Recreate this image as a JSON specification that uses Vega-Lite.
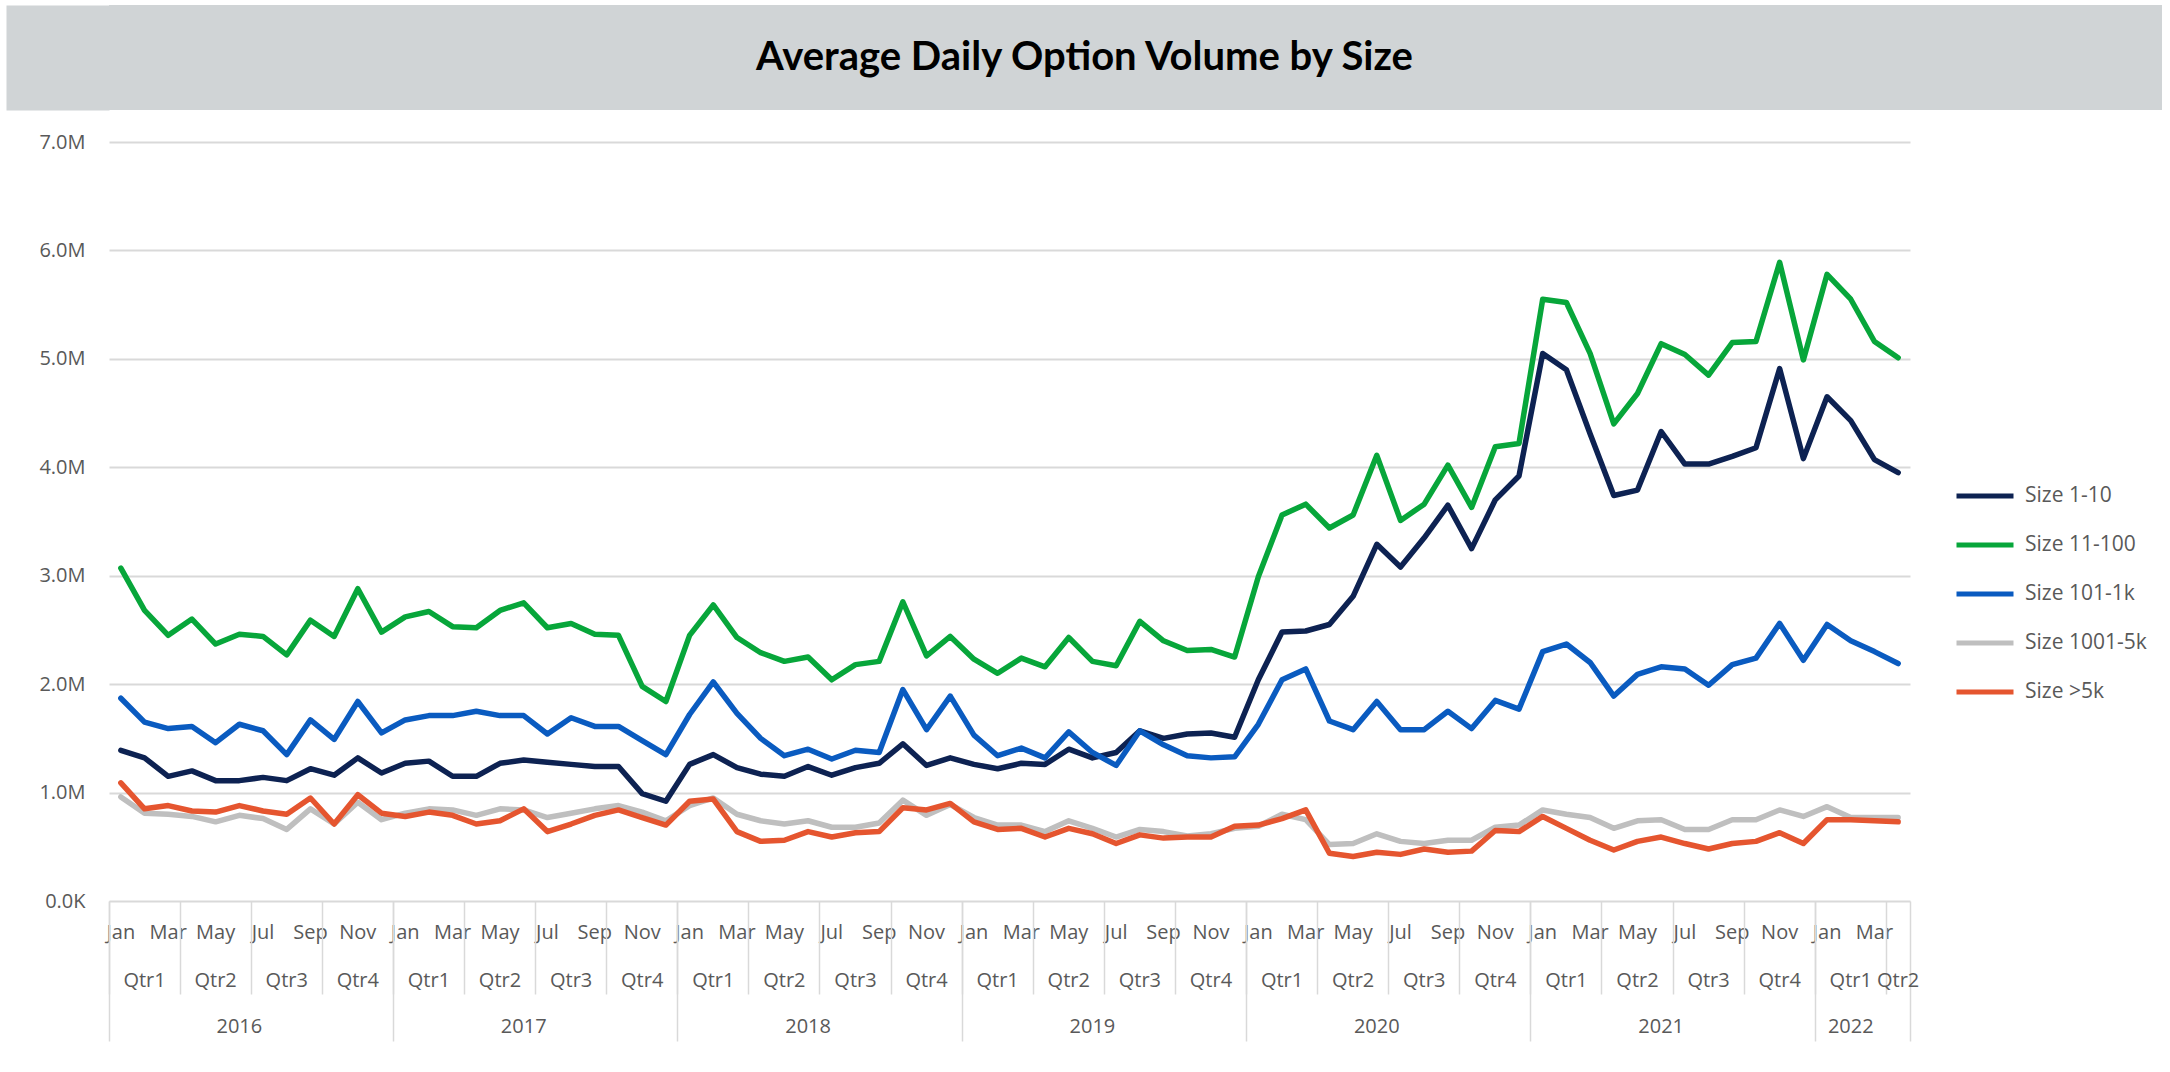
{
  "$schema": "https://vega.github.io/schema/vega-lite/v6.json",
  "background": "white",
  "padding": {"left": 5, "top": 5, "right": 5, "bottom": 0},
  "config": {
    "font": "Open Sans",
    "view": {"stroke": null},
    "axis": {"labelFont": "Open Sans", "labelColor": "#595959", "labelFontSize": 20}
  },
  "columns": 1,
  "align": "none",
  "spacing": 22,
  "concat": [
    {
      "width": 2053,
      "height": 105,
      "view": {"fill": "#D0D4D6", "stroke": null},
      "data": {"values": [{"title": "Average Daily Option Volume by Size", "px": 0.5, "py": 0.5}]},
      "mark": {"type": "text", "font": "Lato", "fontSize": 40, "fontWeight": "bold", "color": "#000000", "align": "center", "baseline": "middle", "dx": -51},
      "encoding": {
        "text": {"field": "title", "type": "nominal"},
        "x": {"field": "px", "type": "quantitative", "scale": {"domain": [0, 1]}, "axis": null},
        "y": {"field": "py", "type": "quantitative", "scale": {"domain": [0, 1]},
          "axis": {"orient": "left", "title": null, "labels": false, "ticks": false, "grid": false, "domain": true, "domainColor": "#D0D4D6", "domainWidth": 103, "offset": 51.5}}
      }
    },
    {
      "hconcat": [
    {
      "width": 1801,
      "height": 759,
      "data": {"values": [
{"m":"2016-01","s":"Size 1-10","v":1.39},{"m":"2016-02","s":"Size 1-10","v":1.32},{"m":"2016-03","s":"Size 1-10","v":1.15},{"m":"2016-04","s":"Size 1-10","v":1.20},{"m":"2016-05","s":"Size 1-10","v":1.11},{"m":"2016-06","s":"Size 1-10","v":1.11},{"m":"2016-07","s":"Size 1-10","v":1.14},{"m":"2016-08","s":"Size 1-10","v":1.11},{"m":"2016-09","s":"Size 1-10","v":1.22},{"m":"2016-10","s":"Size 1-10","v":1.16},{"m":"2016-11","s":"Size 1-10","v":1.32},{"m":"2016-12","s":"Size 1-10","v":1.18},
{"m":"2017-01","s":"Size 1-10","v":1.27},{"m":"2017-02","s":"Size 1-10","v":1.29},{"m":"2017-03","s":"Size 1-10","v":1.15},{"m":"2017-04","s":"Size 1-10","v":1.15},{"m":"2017-05","s":"Size 1-10","v":1.27},{"m":"2017-06","s":"Size 1-10","v":1.30},{"m":"2017-07","s":"Size 1-10","v":1.28},{"m":"2017-08","s":"Size 1-10","v":1.26},{"m":"2017-09","s":"Size 1-10","v":1.24},{"m":"2017-10","s":"Size 1-10","v":1.24},{"m":"2017-11","s":"Size 1-10","v":0.99},{"m":"2017-12","s":"Size 1-10","v":0.92},
{"m":"2018-01","s":"Size 1-10","v":1.26},{"m":"2018-02","s":"Size 1-10","v":1.35},{"m":"2018-03","s":"Size 1-10","v":1.23},{"m":"2018-04","s":"Size 1-10","v":1.17},{"m":"2018-05","s":"Size 1-10","v":1.15},{"m":"2018-06","s":"Size 1-10","v":1.24},{"m":"2018-07","s":"Size 1-10","v":1.16},{"m":"2018-08","s":"Size 1-10","v":1.23},{"m":"2018-09","s":"Size 1-10","v":1.27},{"m":"2018-10","s":"Size 1-10","v":1.45},{"m":"2018-11","s":"Size 1-10","v":1.25},{"m":"2018-12","s":"Size 1-10","v":1.32},
{"m":"2019-01","s":"Size 1-10","v":1.26},{"m":"2019-02","s":"Size 1-10","v":1.22},{"m":"2019-03","s":"Size 1-10","v":1.27},{"m":"2019-04","s":"Size 1-10","v":1.26},{"m":"2019-05","s":"Size 1-10","v":1.40},{"m":"2019-06","s":"Size 1-10","v":1.32},{"m":"2019-07","s":"Size 1-10","v":1.37},{"m":"2019-08","s":"Size 1-10","v":1.57},{"m":"2019-09","s":"Size 1-10","v":1.50},{"m":"2019-10","s":"Size 1-10","v":1.54},{"m":"2019-11","s":"Size 1-10","v":1.55},{"m":"2019-12","s":"Size 1-10","v":1.51},
{"m":"2020-01","s":"Size 1-10","v":2.04},{"m":"2020-02","s":"Size 1-10","v":2.48},{"m":"2020-03","s":"Size 1-10","v":2.49},{"m":"2020-04","s":"Size 1-10","v":2.55},{"m":"2020-05","s":"Size 1-10","v":2.81},{"m":"2020-06","s":"Size 1-10","v":3.29},{"m":"2020-07","s":"Size 1-10","v":3.08},{"m":"2020-08","s":"Size 1-10","v":3.35},{"m":"2020-09","s":"Size 1-10","v":3.65},{"m":"2020-10","s":"Size 1-10","v":3.25},{"m":"2020-11","s":"Size 1-10","v":3.70},{"m":"2020-12","s":"Size 1-10","v":3.92},
{"m":"2021-01","s":"Size 1-10","v":5.05},{"m":"2021-02","s":"Size 1-10","v":4.90},{"m":"2021-03","s":"Size 1-10","v":4.31},{"m":"2021-04","s":"Size 1-10","v":3.74},{"m":"2021-05","s":"Size 1-10","v":3.79},{"m":"2021-06","s":"Size 1-10","v":4.33},{"m":"2021-07","s":"Size 1-10","v":4.03},{"m":"2021-08","s":"Size 1-10","v":4.03},{"m":"2021-09","s":"Size 1-10","v":4.10},{"m":"2021-10","s":"Size 1-10","v":4.18},{"m":"2021-11","s":"Size 1-10","v":4.91},{"m":"2021-12","s":"Size 1-10","v":4.08},
{"m":"2022-01","s":"Size 1-10","v":4.65},{"m":"2022-02","s":"Size 1-10","v":4.43},{"m":"2022-03","s":"Size 1-10","v":4.07},{"m":"2022-04","s":"Size 1-10","v":3.95},
{"m":"2016-01","s":"Size 11-100","v":3.07},{"m":"2016-02","s":"Size 11-100","v":2.68},{"m":"2016-03","s":"Size 11-100","v":2.45},{"m":"2016-04","s":"Size 11-100","v":2.60},{"m":"2016-05","s":"Size 11-100","v":2.37},{"m":"2016-06","s":"Size 11-100","v":2.46},{"m":"2016-07","s":"Size 11-100","v":2.44},{"m":"2016-08","s":"Size 11-100","v":2.27},{"m":"2016-09","s":"Size 11-100","v":2.59},{"m":"2016-10","s":"Size 11-100","v":2.44},{"m":"2016-11","s":"Size 11-100","v":2.88},{"m":"2016-12","s":"Size 11-100","v":2.48},
{"m":"2017-01","s":"Size 11-100","v":2.62},{"m":"2017-02","s":"Size 11-100","v":2.67},{"m":"2017-03","s":"Size 11-100","v":2.53},{"m":"2017-04","s":"Size 11-100","v":2.52},{"m":"2017-05","s":"Size 11-100","v":2.68},{"m":"2017-06","s":"Size 11-100","v":2.75},{"m":"2017-07","s":"Size 11-100","v":2.52},{"m":"2017-08","s":"Size 11-100","v":2.56},{"m":"2017-09","s":"Size 11-100","v":2.46},{"m":"2017-10","s":"Size 11-100","v":2.45},{"m":"2017-11","s":"Size 11-100","v":1.98},{"m":"2017-12","s":"Size 11-100","v":1.84},
{"m":"2018-01","s":"Size 11-100","v":2.45},{"m":"2018-02","s":"Size 11-100","v":2.73},{"m":"2018-03","s":"Size 11-100","v":2.43},{"m":"2018-04","s":"Size 11-100","v":2.29},{"m":"2018-05","s":"Size 11-100","v":2.21},{"m":"2018-06","s":"Size 11-100","v":2.25},{"m":"2018-07","s":"Size 11-100","v":2.04},{"m":"2018-08","s":"Size 11-100","v":2.18},{"m":"2018-09","s":"Size 11-100","v":2.21},{"m":"2018-10","s":"Size 11-100","v":2.76},{"m":"2018-11","s":"Size 11-100","v":2.26},{"m":"2018-12","s":"Size 11-100","v":2.44},
{"m":"2019-01","s":"Size 11-100","v":2.23},{"m":"2019-02","s":"Size 11-100","v":2.10},{"m":"2019-03","s":"Size 11-100","v":2.24},{"m":"2019-04","s":"Size 11-100","v":2.16},{"m":"2019-05","s":"Size 11-100","v":2.43},{"m":"2019-06","s":"Size 11-100","v":2.21},{"m":"2019-07","s":"Size 11-100","v":2.17},{"m":"2019-08","s":"Size 11-100","v":2.58},{"m":"2019-09","s":"Size 11-100","v":2.40},{"m":"2019-10","s":"Size 11-100","v":2.31},{"m":"2019-11","s":"Size 11-100","v":2.32},{"m":"2019-12","s":"Size 11-100","v":2.25},
{"m":"2020-01","s":"Size 11-100","v":2.99},{"m":"2020-02","s":"Size 11-100","v":3.56},{"m":"2020-03","s":"Size 11-100","v":3.66},{"m":"2020-04","s":"Size 11-100","v":3.44},{"m":"2020-05","s":"Size 11-100","v":3.56},{"m":"2020-06","s":"Size 11-100","v":4.11},{"m":"2020-07","s":"Size 11-100","v":3.51},{"m":"2020-08","s":"Size 11-100","v":3.66},{"m":"2020-09","s":"Size 11-100","v":4.02},{"m":"2020-10","s":"Size 11-100","v":3.63},{"m":"2020-11","s":"Size 11-100","v":4.19},{"m":"2020-12","s":"Size 11-100","v":4.22},
{"m":"2021-01","s":"Size 11-100","v":5.55},{"m":"2021-02","s":"Size 11-100","v":5.52},{"m":"2021-03","s":"Size 11-100","v":5.05},{"m":"2021-04","s":"Size 11-100","v":4.40},{"m":"2021-05","s":"Size 11-100","v":4.68},{"m":"2021-06","s":"Size 11-100","v":5.14},{"m":"2021-07","s":"Size 11-100","v":5.04},{"m":"2021-08","s":"Size 11-100","v":4.85},{"m":"2021-09","s":"Size 11-100","v":5.15},{"m":"2021-10","s":"Size 11-100","v":5.16},{"m":"2021-11","s":"Size 11-100","v":5.89},{"m":"2021-12","s":"Size 11-100","v":4.99},
{"m":"2022-01","s":"Size 11-100","v":5.78},{"m":"2022-02","s":"Size 11-100","v":5.55},{"m":"2022-03","s":"Size 11-100","v":5.16},{"m":"2022-04","s":"Size 11-100","v":5.01},
{"m":"2016-01","s":"Size 101-1k","v":1.87},{"m":"2016-02","s":"Size 101-1k","v":1.65},{"m":"2016-03","s":"Size 101-1k","v":1.59},{"m":"2016-04","s":"Size 101-1k","v":1.61},{"m":"2016-05","s":"Size 101-1k","v":1.46},{"m":"2016-06","s":"Size 101-1k","v":1.63},{"m":"2016-07","s":"Size 101-1k","v":1.57},{"m":"2016-08","s":"Size 101-1k","v":1.35},{"m":"2016-09","s":"Size 101-1k","v":1.67},{"m":"2016-10","s":"Size 101-1k","v":1.49},{"m":"2016-11","s":"Size 101-1k","v":1.84},{"m":"2016-12","s":"Size 101-1k","v":1.55},
{"m":"2017-01","s":"Size 101-1k","v":1.67},{"m":"2017-02","s":"Size 101-1k","v":1.71},{"m":"2017-03","s":"Size 101-1k","v":1.71},{"m":"2017-04","s":"Size 101-1k","v":1.75},{"m":"2017-05","s":"Size 101-1k","v":1.71},{"m":"2017-06","s":"Size 101-1k","v":1.71},{"m":"2017-07","s":"Size 101-1k","v":1.54},{"m":"2017-08","s":"Size 101-1k","v":1.69},{"m":"2017-09","s":"Size 101-1k","v":1.61},{"m":"2017-10","s":"Size 101-1k","v":1.61},{"m":"2017-11","s":"Size 101-1k","v":1.48},{"m":"2017-12","s":"Size 101-1k","v":1.35},
{"m":"2018-01","s":"Size 101-1k","v":1.72},{"m":"2018-02","s":"Size 101-1k","v":2.02},{"m":"2018-03","s":"Size 101-1k","v":1.73},{"m":"2018-04","s":"Size 101-1k","v":1.50},{"m":"2018-05","s":"Size 101-1k","v":1.34},{"m":"2018-06","s":"Size 101-1k","v":1.40},{"m":"2018-07","s":"Size 101-1k","v":1.31},{"m":"2018-08","s":"Size 101-1k","v":1.39},{"m":"2018-09","s":"Size 101-1k","v":1.37},{"m":"2018-10","s":"Size 101-1k","v":1.95},{"m":"2018-11","s":"Size 101-1k","v":1.58},{"m":"2018-12","s":"Size 101-1k","v":1.89},
{"m":"2019-01","s":"Size 101-1k","v":1.53},{"m":"2019-02","s":"Size 101-1k","v":1.34},{"m":"2019-03","s":"Size 101-1k","v":1.41},{"m":"2019-04","s":"Size 101-1k","v":1.32},{"m":"2019-05","s":"Size 101-1k","v":1.56},{"m":"2019-06","s":"Size 101-1k","v":1.37},{"m":"2019-07","s":"Size 101-1k","v":1.25},{"m":"2019-08","s":"Size 101-1k","v":1.57},{"m":"2019-09","s":"Size 101-1k","v":1.44},{"m":"2019-10","s":"Size 101-1k","v":1.34},{"m":"2019-11","s":"Size 101-1k","v":1.32},{"m":"2019-12","s":"Size 101-1k","v":1.33},
{"m":"2020-01","s":"Size 101-1k","v":1.63},{"m":"2020-02","s":"Size 101-1k","v":2.04},{"m":"2020-03","s":"Size 101-1k","v":2.14},{"m":"2020-04","s":"Size 101-1k","v":1.66},{"m":"2020-05","s":"Size 101-1k","v":1.58},{"m":"2020-06","s":"Size 101-1k","v":1.84},{"m":"2020-07","s":"Size 101-1k","v":1.58},{"m":"2020-08","s":"Size 101-1k","v":1.58},{"m":"2020-09","s":"Size 101-1k","v":1.75},{"m":"2020-10","s":"Size 101-1k","v":1.59},{"m":"2020-11","s":"Size 101-1k","v":1.85},{"m":"2020-12","s":"Size 101-1k","v":1.77},
{"m":"2021-01","s":"Size 101-1k","v":2.30},{"m":"2021-02","s":"Size 101-1k","v":2.37},{"m":"2021-03","s":"Size 101-1k","v":2.20},{"m":"2021-04","s":"Size 101-1k","v":1.89},{"m":"2021-05","s":"Size 101-1k","v":2.09},{"m":"2021-06","s":"Size 101-1k","v":2.16},{"m":"2021-07","s":"Size 101-1k","v":2.14},{"m":"2021-08","s":"Size 101-1k","v":1.99},{"m":"2021-09","s":"Size 101-1k","v":2.18},{"m":"2021-10","s":"Size 101-1k","v":2.24},{"m":"2021-11","s":"Size 101-1k","v":2.56},{"m":"2021-12","s":"Size 101-1k","v":2.22},
{"m":"2022-01","s":"Size 101-1k","v":2.55},{"m":"2022-02","s":"Size 101-1k","v":2.40},{"m":"2022-03","s":"Size 101-1k","v":2.30},{"m":"2022-04","s":"Size 101-1k","v":2.19},
{"m":"2016-01","s":"Size 1001-5k","v":0.96},{"m":"2016-02","s":"Size 1001-5k","v":0.81},{"m":"2016-03","s":"Size 1001-5k","v":0.80},{"m":"2016-04","s":"Size 1001-5k","v":0.78},{"m":"2016-05","s":"Size 1001-5k","v":0.73},{"m":"2016-06","s":"Size 1001-5k","v":0.79},{"m":"2016-07","s":"Size 1001-5k","v":0.76},{"m":"2016-08","s":"Size 1001-5k","v":0.66},{"m":"2016-09","s":"Size 1001-5k","v":0.85},{"m":"2016-10","s":"Size 1001-5k","v":0.71},{"m":"2016-11","s":"Size 1001-5k","v":0.91},{"m":"2016-12","s":"Size 1001-5k","v":0.75},
{"m":"2017-01","s":"Size 1001-5k","v":0.81},{"m":"2017-02","s":"Size 1001-5k","v":0.85},{"m":"2017-03","s":"Size 1001-5k","v":0.84},{"m":"2017-04","s":"Size 1001-5k","v":0.79},{"m":"2017-05","s":"Size 1001-5k","v":0.85},{"m":"2017-06","s":"Size 1001-5k","v":0.84},{"m":"2017-07","s":"Size 1001-5k","v":0.77},{"m":"2017-08","s":"Size 1001-5k","v":0.81},{"m":"2017-09","s":"Size 1001-5k","v":0.85},{"m":"2017-10","s":"Size 1001-5k","v":0.88},{"m":"2017-11","s":"Size 1001-5k","v":0.82},{"m":"2017-12","s":"Size 1001-5k","v":0.74},
{"m":"2018-01","s":"Size 1001-5k","v":0.88},{"m":"2018-02","s":"Size 1001-5k","v":0.95},{"m":"2018-03","s":"Size 1001-5k","v":0.80},{"m":"2018-04","s":"Size 1001-5k","v":0.74},{"m":"2018-05","s":"Size 1001-5k","v":0.71},{"m":"2018-06","s":"Size 1001-5k","v":0.74},{"m":"2018-07","s":"Size 1001-5k","v":0.68},{"m":"2018-08","s":"Size 1001-5k","v":0.68},{"m":"2018-09","s":"Size 1001-5k","v":0.72},{"m":"2018-10","s":"Size 1001-5k","v":0.93},{"m":"2018-11","s":"Size 1001-5k","v":0.79},{"m":"2018-12","s":"Size 1001-5k","v":0.89},
{"m":"2019-01","s":"Size 1001-5k","v":0.77},{"m":"2019-02","s":"Size 1001-5k","v":0.70},{"m":"2019-03","s":"Size 1001-5k","v":0.70},{"m":"2019-04","s":"Size 1001-5k","v":0.64},{"m":"2019-05","s":"Size 1001-5k","v":0.74},{"m":"2019-06","s":"Size 1001-5k","v":0.67},{"m":"2019-07","s":"Size 1001-5k","v":0.59},{"m":"2019-08","s":"Size 1001-5k","v":0.66},{"m":"2019-09","s":"Size 1001-5k","v":0.64},{"m":"2019-10","s":"Size 1001-5k","v":0.60},{"m":"2019-11","s":"Size 1001-5k","v":0.62},{"m":"2019-12","s":"Size 1001-5k","v":0.67},
{"m":"2020-01","s":"Size 1001-5k","v":0.69},{"m":"2020-02","s":"Size 1001-5k","v":0.80},{"m":"2020-03","s":"Size 1001-5k","v":0.75},{"m":"2020-04","s":"Size 1001-5k","v":0.52},{"m":"2020-05","s":"Size 1001-5k","v":0.53},{"m":"2020-06","s":"Size 1001-5k","v":0.62},{"m":"2020-07","s":"Size 1001-5k","v":0.55},{"m":"2020-08","s":"Size 1001-5k","v":0.53},{"m":"2020-09","s":"Size 1001-5k","v":0.56},{"m":"2020-10","s":"Size 1001-5k","v":0.56},{"m":"2020-11","s":"Size 1001-5k","v":0.68},{"m":"2020-12","s":"Size 1001-5k","v":0.70},
{"m":"2021-01","s":"Size 1001-5k","v":0.84},{"m":"2021-02","s":"Size 1001-5k","v":0.80},{"m":"2021-03","s":"Size 1001-5k","v":0.77},{"m":"2021-04","s":"Size 1001-5k","v":0.67},{"m":"2021-05","s":"Size 1001-5k","v":0.74},{"m":"2021-06","s":"Size 1001-5k","v":0.75},{"m":"2021-07","s":"Size 1001-5k","v":0.66},{"m":"2021-08","s":"Size 1001-5k","v":0.66},{"m":"2021-09","s":"Size 1001-5k","v":0.75},{"m":"2021-10","s":"Size 1001-5k","v":0.75},{"m":"2021-11","s":"Size 1001-5k","v":0.84},{"m":"2021-12","s":"Size 1001-5k","v":0.78},
{"m":"2022-01","s":"Size 1001-5k","v":0.87},{"m":"2022-02","s":"Size 1001-5k","v":0.77},{"m":"2022-03","s":"Size 1001-5k","v":0.77},{"m":"2022-04","s":"Size 1001-5k","v":0.77},
{"m":"2016-01","s":"Size >5k","v":1.09},{"m":"2016-02","s":"Size >5k","v":0.85},{"m":"2016-03","s":"Size >5k","v":0.88},{"m":"2016-04","s":"Size >5k","v":0.83},{"m":"2016-05","s":"Size >5k","v":0.82},{"m":"2016-06","s":"Size >5k","v":0.88},{"m":"2016-07","s":"Size >5k","v":0.83},{"m":"2016-08","s":"Size >5k","v":0.80},{"m":"2016-09","s":"Size >5k","v":0.95},{"m":"2016-10","s":"Size >5k","v":0.71},{"m":"2016-11","s":"Size >5k","v":0.98},{"m":"2016-12","s":"Size >5k","v":0.81},
{"m":"2017-01","s":"Size >5k","v":0.78},{"m":"2017-02","s":"Size >5k","v":0.82},{"m":"2017-03","s":"Size >5k","v":0.79},{"m":"2017-04","s":"Size >5k","v":0.71},{"m":"2017-05","s":"Size >5k","v":0.74},{"m":"2017-06","s":"Size >5k","v":0.85},{"m":"2017-07","s":"Size >5k","v":0.64},{"m":"2017-08","s":"Size >5k","v":0.71},{"m":"2017-09","s":"Size >5k","v":0.79},{"m":"2017-10","s":"Size >5k","v":0.84},{"m":"2017-11","s":"Size >5k","v":0.77},{"m":"2017-12","s":"Size >5k","v":0.70},
{"m":"2018-01","s":"Size >5k","v":0.92},{"m":"2018-02","s":"Size >5k","v":0.94},{"m":"2018-03","s":"Size >5k","v":0.64},{"m":"2018-04","s":"Size >5k","v":0.55},{"m":"2018-05","s":"Size >5k","v":0.56},{"m":"2018-06","s":"Size >5k","v":0.64},{"m":"2018-07","s":"Size >5k","v":0.59},{"m":"2018-08","s":"Size >5k","v":0.63},{"m":"2018-09","s":"Size >5k","v":0.64},{"m":"2018-10","s":"Size >5k","v":0.86},{"m":"2018-11","s":"Size >5k","v":0.84},{"m":"2018-12","s":"Size >5k","v":0.90},
{"m":"2019-01","s":"Size >5k","v":0.73},{"m":"2019-02","s":"Size >5k","v":0.66},{"m":"2019-03","s":"Size >5k","v":0.67},{"m":"2019-04","s":"Size >5k","v":0.59},{"m":"2019-05","s":"Size >5k","v":0.67},{"m":"2019-06","s":"Size >5k","v":0.62},{"m":"2019-07","s":"Size >5k","v":0.53},{"m":"2019-08","s":"Size >5k","v":0.61},{"m":"2019-09","s":"Size >5k","v":0.58},{"m":"2019-10","s":"Size >5k","v":0.59},{"m":"2019-11","s":"Size >5k","v":0.59},{"m":"2019-12","s":"Size >5k","v":0.69},
{"m":"2020-01","s":"Size >5k","v":0.70},{"m":"2020-02","s":"Size >5k","v":0.76},{"m":"2020-03","s":"Size >5k","v":0.84},{"m":"2020-04","s":"Size >5k","v":0.44},{"m":"2020-05","s":"Size >5k","v":0.41},{"m":"2020-06","s":"Size >5k","v":0.45},{"m":"2020-07","s":"Size >5k","v":0.43},{"m":"2020-08","s":"Size >5k","v":0.48},{"m":"2020-09","s":"Size >5k","v":0.45},{"m":"2020-10","s":"Size >5k","v":0.46},{"m":"2020-11","s":"Size >5k","v":0.65},{"m":"2020-12","s":"Size >5k","v":0.64},
{"m":"2021-01","s":"Size >5k","v":0.78},{"m":"2021-02","s":"Size >5k","v":0.67},{"m":"2021-03","s":"Size >5k","v":0.56},{"m":"2021-04","s":"Size >5k","v":0.47},{"m":"2021-05","s":"Size >5k","v":0.55},{"m":"2021-06","s":"Size >5k","v":0.59},{"m":"2021-07","s":"Size >5k","v":0.53},{"m":"2021-08","s":"Size >5k","v":0.48},{"m":"2021-09","s":"Size >5k","v":0.53},{"m":"2021-10","s":"Size >5k","v":0.55},{"m":"2021-11","s":"Size >5k","v":0.63},{"m":"2021-12","s":"Size >5k","v":0.53},
{"m":"2022-01","s":"Size >5k","v":0.75},{"m":"2022-02","s":"Size >5k","v":0.75},{"m":"2022-03","s":"Size >5k","v":0.74},{"m":"2022-04","s":"Size >5k","v":0.73}
      ]},
      "resolve": {"axis": {"x": "independent"}},
      "encoding": {
        "y": {
          "field": "v", "type": "quantitative",
          "scale": {"domain": [0, 7], "nice": false},
          "axis": {"title": null, "values": [0,1,2,3,4,5,6,7], "domain": false, "ticks": false, "labelPadding": 24, "minExtent": 104, "gridColor": "#D9D9D9", "gridWidth": 2,
            "labelExpr": "datum.value == 0 ? '0.0K' : format(datum.value, '.1f') + 'M'"}
        }
      },
      "layer": [
        {
          "mark": {"type": "line", "strokeWidth": 5.5, "strokeJoin": "round", "strokeCap": "round"},
          "encoding": {
            "x": {
              "field": "m", "type": "ordinal", "bandPosition": 0.5,
              "scale": {"type": "band", "paddingInner": 0, "paddingOuter": 0},
              "axis": {"orient": "bottom", "title": null, "domain": false, "ticks": false, "grid": false, "labelAngle": 0, "labelOverlap": false, "labelPadding": 21, "labelFontSize": 20,
                "labelExpr": "toNumber(slice(datum.value,5,7)) % 2 == 1 ? ['Jan','Feb','Mar','Apr','May','Jun','Jul','Aug','Sep','Oct','Nov','Dec'][toNumber(slice(datum.value,5,7))-1] : ''"}
            },
            "color": {
              "field": "s", "type": "nominal",
              "scale": {"domain": ["Size 1-10", "Size 11-100", "Size 101-1k", "Size 1001-5k", "Size >5k"], "range": ["#0D2252", "#07A63A", "#0A5BC0", "#BFBFBF", "#E5552F"]},
              "legend": {"orient": "none", "legendX": 1845, "legendY": 460, "title": null, "symbolType": "stroke", "symbolStrokeWidth": 5, "symbolSize": 3249, "labelFontSize": 21, "labelColor": "#595959", "labelFont": "Open Sans", "labelOffset": 9, "rowPadding": 8}
            }
          }
        },
        {
          "mark": {"type": "point", "opacity": 0},
          "encoding": {
            "x": {"field": "m", "type": "ordinal",
            "axis": {"orient": "bottom", "title": null, "domain": false, "grid": false, "labels": false, "ticks": true, "bandPosition": 0, "tickSize": 93, "tickColor": "#D9D9D9", "tickWidth": 1.5,
              "values": ["2016-01","2016-04","2016-07","2016-10","2017-01","2017-04","2017-07","2017-10","2018-01","2018-04","2018-07","2018-10","2019-01","2019-04","2019-07","2019-10","2020-01","2020-04","2020-07","2020-10","2021-01","2021-04","2021-07","2021-10","2022-01","2022-04"]}}}
        },
        {
          "mark": {"type": "point", "opacity": 0},
          "encoding": {
            "x": {"field": "m", "type": "ordinal",
            "axis": {"orient": "bottom", "title": null, "domain": false, "grid": false, "labels": false, "ticks": true, "bandPosition": 0, "tickSize": 140, "tickColor": "#D9D9D9", "tickWidth": 1.5,
              "values": ["2016-01","2017-01","2018-01","2019-01","2020-01","2021-01","2022-01"]}}}
        },
        {
          "mark": {"type": "point", "opacity": 0},
          "encoding": {
            "x": {"field": "m", "type": "ordinal",
            "axis": {"orient": "bottom", "title": null, "domain": false, "grid": false, "labels": false, "ticks": true, "bandPosition": 1, "tickSize": 140, "tickColor": "#D9D9D9", "tickWidth": 1.5,
              "values": ["2022-04"]}}}
        },
        {
          "mark": {"type": "point", "opacity": 0},
          "encoding": {
            "x": {"field": "m", "type": "ordinal",
            "axis": {"orient": "bottom", "title": null, "domain": false, "grid": false, "ticks": false, "labelAngle": 0, "labelOverlap": false, "labelPadding": 69, "labelFontSize": 20,
              "labelExpr": "'Qtr' + ceil(toNumber(slice(datum.value,5,7))/3)",
              "values": ["2016-02","2016-05","2016-08","2016-11","2017-02","2017-05","2017-08","2017-11","2018-02","2018-05","2018-08","2018-11","2019-02","2019-05","2019-08","2019-11","2020-02","2020-05","2020-08","2020-11","2021-02","2021-05","2021-08","2021-11","2022-02","2022-04"]}}}
        },
        {
          "mark": {"type": "point", "opacity": 0},
          "encoding": {
            "x": {"field": "m", "type": "ordinal",
            "axis": {"orient": "bottom", "title": null, "domain": false, "grid": false, "ticks": false, "labelAngle": 0, "labelOverlap": false, "labelPadding": 115, "labelFontSize": 20, "bandPosition": 1,
              "labelExpr": "slice(datum.value,0,4)",
              "values": ["2016-06","2017-06","2018-06","2019-06","2020-06","2021-06","2022-02"]}}}
        }
      ]
    }
      ]
    }
  ]
}
